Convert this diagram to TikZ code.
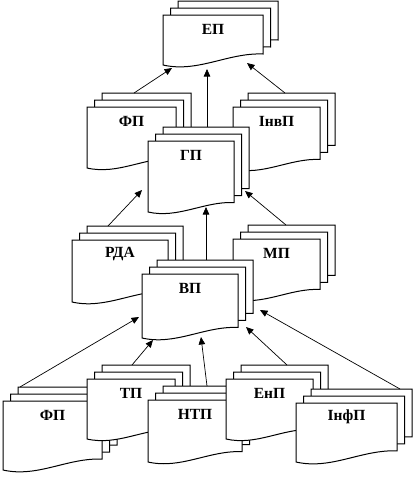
\documentclass[tikz,border=0pt]{standalone}
\usepackage{fontspec}
\setmainfont{Liberation Serif}
\usepackage{tikz}
\usetikzlibrary{arrows.meta, calc}

\tikzset{
    docline/.style={draw=black, fill=white, line width=1pt},
    doclabel/.style={font=\bfseries\fontsize{15.5}{17}\selectfont, inner sep=0pt},
    link/.style={-{Triangle[length=7.5pt,width=6.5pt]}, line width=0.7pt}
}

% stack of three documents: name, x, y, width, height, label
\newcommand{\multidoc}[6]{%
    \foreach \k in {2,1,0}{
        \begin{scope}[shift={(#2+7.5*\k,#3-7*\k)}]
            \draw[docline] (0,0) -- (#4,0) -- (#4,#5-0.11*#4)
                .. controls (0.65*#4,#5-0.125*#4) and (0.35*#4,#5+0.08*#4) .. (0,#5) -- cycle;
        \end{scope}
    }
    \coordinate (#1) at (#2,#3);
    \coordinate (#1-back) at (#2+15,#3-14);
    \node[doclabel] (#1-lbl) at (#2+#4/2,#3+14) {#6};
}

\begin{document}
\begin{tikzpicture}[x=1pt, y=-1pt]
    \useasboundingbox (0,0) rectangle (415,477);
    % top level
    \multidoc{ep}{163}{15}{100}{50}{ЕП}
    % second level
    \multidoc{fpa}{87}{107}{89}{61}{ФП}
    \multidoc{invp}{233}{107}{87}{62}{ІнвП}
    \multidoc{gp}{148}{141}{86}{71}{ГП}
    % third level
    \multidoc{rda}{72}{240}{96}{62}{РДА}
    \multidoc{mp}{233}{239}{87}{60}{МП}
    \multidoc{vp}{142}{274}{96}{64}{ВП}
    % bottom row
    \multidoc{fpb}{3}{401}{99}{69}{ФП}
    \multidoc{tp}{87}{379}{88}{60}{ТП}
    \multidoc{ntp}{148}{400}{94}{62}{НТП}
    \multidoc{enp}{226}{379}{87}{60}{ЕнП}
    \multidoc{infp}{296}{403}{101}{59}{ІнфП}
    % links into ЕП
    \draw[link] ($(fpa-back)+(32,0)$) -- ($(ep)+(9,53)$);
    \draw[link] ($(gp-back)+(44,0)$) -- ($(ep)+(44,54)$);
    \draw[link] ($(invp-back)+(37,0)$) -- ($(ep)+(84,48)$);
    % links into ГП
    \draw[link] ($(rda-back)+(21,0)$) -- ($(gp)+(-6,49)$);
    \draw[link] ($(vp-back)+(49,0)$) -- ($(gp)+(58,66)$);
    \draw[link] ($(mp-back)+(38,0)$) -- ($(gp)+(97,50)$);
    % links into ВП
    \draw[link] ($(fpb-back)+(2,0)$) -- ($(vp)+(-3,43)$);
    \draw[link] ($(tp-back)+(30,0)$) -- ($(vp)+(11,66)$);
    \draw[link] ($(ntp-back)+(44,0)$) -- ($(vp)+(59,63)$);
    \draw[link] ($(enp-back)+(46,0)$) -- ($(vp)+(104,53)$);
    \draw[link] ($(infp-back)+(89,0)$) -- ($(vp)+(118,36)$);
\end{tikzpicture}
\end{document}
